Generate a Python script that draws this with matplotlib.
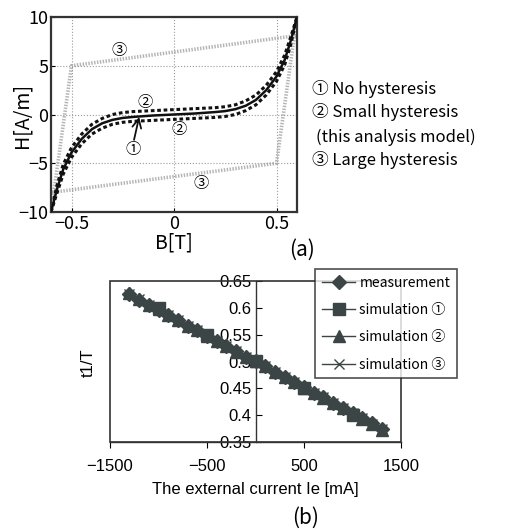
import numpy as np
import matplotlib.pyplot as plt
from matplotlib.patches import Rectangle

JP = ['Noto Sans CJK JP', 'DejaVu Sans']
plt.rcParams['font.family'] = JP

# ---- (a) B-H curves ----
b_pts = [-0.6, -0.57, -0.54, -0.5, -0.45, -0.4, -0.35, -0.3, -0.25, -0.2, -0.1, 0.0,
         0.1, 0.2, 0.25, 0.3, 0.35, 0.4, 0.45, 0.5, 0.54, 0.57, 0.6]
h_none = [-10, -7.6, -5.6, -3.9, -2.5, -1.5, -0.9, -0.55, -0.35, -0.25, -0.1, 0.0,
          0.1, 0.25, 0.35, 0.55, 0.9, 1.5, 2.5, 3.9, 5.6, 7.6, 10]
h_small_up = [-10, -7.2, -5.1, -3.4, -2.0, -1.0, -0.4, 0.0, 0.2, 0.3, 0.4, 0.5,
              0.6, 0.7, 0.8, 1.0, 1.4, 2.0, 3.0, 4.4, 6.1, 8.0, 10]
h_small_lo = [-10, -8.0, -6.1, -4.4, -3.0, -2.0, -1.4, -1.0, -0.8, -0.7, -0.6, -0.5,
              -0.4, -0.3, -0.2, 0.0, 0.4, 1.0, 2.0, 3.4, 5.1, 7.2, 10]
b_large_a = [-0.6, -0.5, 0.6]
h_large_a = [-10, 5.0, 8.1]
b_large_b = [0.6, 0.5, -0.6]
h_large_b = [10, -5.0, -8.0]

# ---- (b) t1/T vs external current ----
ie_fine = [-1300, -1200, -1100, -1000, -900, -800, -700, -600, -500, -400, -300, -200, -100, 0,
           100, 200, 300, 400, 500, 600, 700, 800, 900, 1000, 1100, 1200, 1300]
meas = [0.625, 0.615, 0.605, 0.596, 0.587, 0.577, 0.567, 0.558, 0.548, 0.538, 0.528, 0.519,
        0.509, 0.500, 0.491, 0.481, 0.471, 0.462, 0.452, 0.442, 0.433, 0.423, 0.413, 0.404,
        0.394, 0.385, 0.375]
ie_sim1 = [-1000, -500, 0, 500, 1000]
sim1 = [0.600, 0.550, 0.500, 0.450, 0.400]
sim2 = [0.627, 0.617, 0.606, 0.597, 0.587, 0.577, 0.567, 0.558, 0.548, 0.538, 0.528, 0.518,
        0.509, 0.500, 0.491, 0.481, 0.471, 0.461, 0.451, 0.442, 0.432, 0.422, 0.413, 0.403,
        0.393, 0.383, 0.373]
sim3 = [0.626, 0.616, 0.606, 0.596, 0.587, 0.577, 0.567, 0.558, 0.548, 0.538, 0.528, 0.519,
        0.509, 0.500, 0.491, 0.481, 0.472, 0.462, 0.452, 0.442, 0.433, 0.423, 0.413, 0.404,
        0.394, 0.384, 0.374]

fig = plt.figure(figsize=(5.22, 5.29), dpi=100)

# ================= (a) =================
ax = fig.add_axes([51/522, 1-212/529, 246/522, 195/529])
grey3 = '#b5b5b5'
ax.plot(b_large_a, h_large_a, color=grey3, lw=2.6, ls=(0, (0.4, 0.4)), zorder=1)
ax.plot(b_large_b, h_large_b, color=grey3, lw=2.6, ls=(0, (0.4, 0.4)), zorder=1)
ax.plot(b_pts, h_small_up, color='#111111', lw=2.2, ls=(0, (1.2, 0.9)), zorder=2)
ax.plot(b_pts, h_small_lo, color='#111111', lw=2.2, ls=(0, (1.2, 0.9)), zorder=2)
ax.plot(b_pts, h_none, color='#111111', lw=1.8, zorder=3)
ax.set_xlim(-0.6, 0.6)
ax.set_ylim(-10, 10)
ax.set_xticks([-0.5, 0, 0.5])
ax.set_xticklabels(['−0.5', '0', '0.5'])
ax.set_yticks([-10, -5, 0, 5, 10])
ax.set_yticklabels(['−10', '−5', '0', '5', '10'])
ax.grid(True, color='#999999', ls=':', lw=0.8)
ax.tick_params(direction='in', length=3, labelsize=13, pad=2)
for s in ax.spines.values():
    s.set_linewidth(1.6)
    s.set_color('#333333')
ax.set_xlabel('B[T]', fontsize=14, labelpad=0)
fig.text(22/522, 1-115/529, 'H[A/m]', fontsize=14, rotation=90, ha='center', va='center')

ax.text(-0.14, 1.2, '②', fontsize=11, ha='center', va='center')
ax.text(0.025, -1.5, '②', fontsize=11, ha='center', va='center')
ax.text(-0.27, 6.6, '③', fontsize=11, ha='center', va='center')
ax.text(0.13, -7.1, '③', fontsize=11, ha='center', va='center')
ax.text(-0.2, -3.6, '①', fontsize=11, ha='center', va='center')
ax.annotate('', xy=(-0.17, -0.25), xytext=(-0.195, -2.6),
            arrowprops=dict(arrowstyle='->', color='#111111', lw=1.3,
                            shrinkA=0, shrinkB=0, mutation_scale=16))

fig.text(312/522, 1-89/529, '① No hysteresis', fontsize=12, va='center')
fig.text(312/522, 1-112/529, '② Small hysteresis', fontsize=12, va='center')
fig.text(316/522, 1-137/529, '(this analysis model)', fontsize=12, va='center')
fig.text(312/522, 1-160/529, '③ Large hysteresis', fontsize=12, va='center')
fig.text(302/522, 1-250/529, '(a)', fontsize=15, ha='center', va='center')

# ================= (b) =================
bx = fig.add_axes([110/522, 1-442/529, 291/522, 161/529])
mc = '#3b4545'
bx.plot(ie_fine, sim3, color=mc, marker='x', ms=7, lw=1, label='simulation ③', zorder=2)
bx.plot(ie_fine, meas, color=mc, marker='D', ms=7, lw=1, label='measurement', zorder=3)
bx.plot(ie_sim1, sim1, color=mc, marker='s', ms=9, lw=1, label='simulation ①', zorder=3)
bx.plot(ie_fine, sim2, color=mc, marker='^', ms=9, lw=1, label='simulation ②', zorder=4)
bx.set_xlim(-1500, 1500)
bx.set_ylim(0.35, 0.65)
bx.spines['left'].set_position(('data', 0))
bx.spines['right'].set_visible(False)
bx.spines['top'].set_visible(False)
bx.add_patch(Rectangle((0, 0), 1, 1, transform=bx.transAxes, fill=False,
                       lw=1.2, ec='#333333', zorder=5, clip_on=False))
for s in bx.spines.values():
    s.set_linewidth(1.0)
    s.set_color('#333333')
bx.set_yticks([0.35, 0.4, 0.45, 0.5, 0.55, 0.6, 0.65])
bx.set_yticklabels(['0.35', '0.4', '0.45', '0.5', '0.55', '0.6', '0.65'],
                   family='Liberation Sans')
bx.set_xticks([-1500, -500, 500, 1500])
bx.set_xticklabels(['−1500', '−500', '500', '1500'], family='Liberation Sans')
bx.tick_params(axis='y', direction='in', length=4, labelsize=12, pad=3)
bx.tick_params(axis='x', direction='out', length=4, labelsize=12, pad=8)
bx.set_xlabel('The external current Ie [mA]', fontsize=12, family='Liberation Sans', labelpad=6)
fig.text(88/522, 1-363/529, 't1/T', fontsize=12, rotation=90, ha='center', va='center',
         family='Liberation Sans')

h, l = bx.get_legend_handles_labels()
order = [1, 2, 3, 0]
leg = fig.legend([h[i] for i in order], [l[i] for i in order],
                 loc='upper left', bbox_to_anchor=(315/522, 1-269/529), borderaxespad=0,
                 fontsize=10, frameon=True, fancybox=False, edgecolor='#222222',
                 handlelength=2.4, borderpad=0.5, labelspacing=0.95, handletextpad=0.3)
leg.get_frame().set_linewidth(1.2)
fig.text(306/522, 1-518/529, '(b)', fontsize=15, ha='center', va='center')

fig.savefig('out.png', dpi=100)
